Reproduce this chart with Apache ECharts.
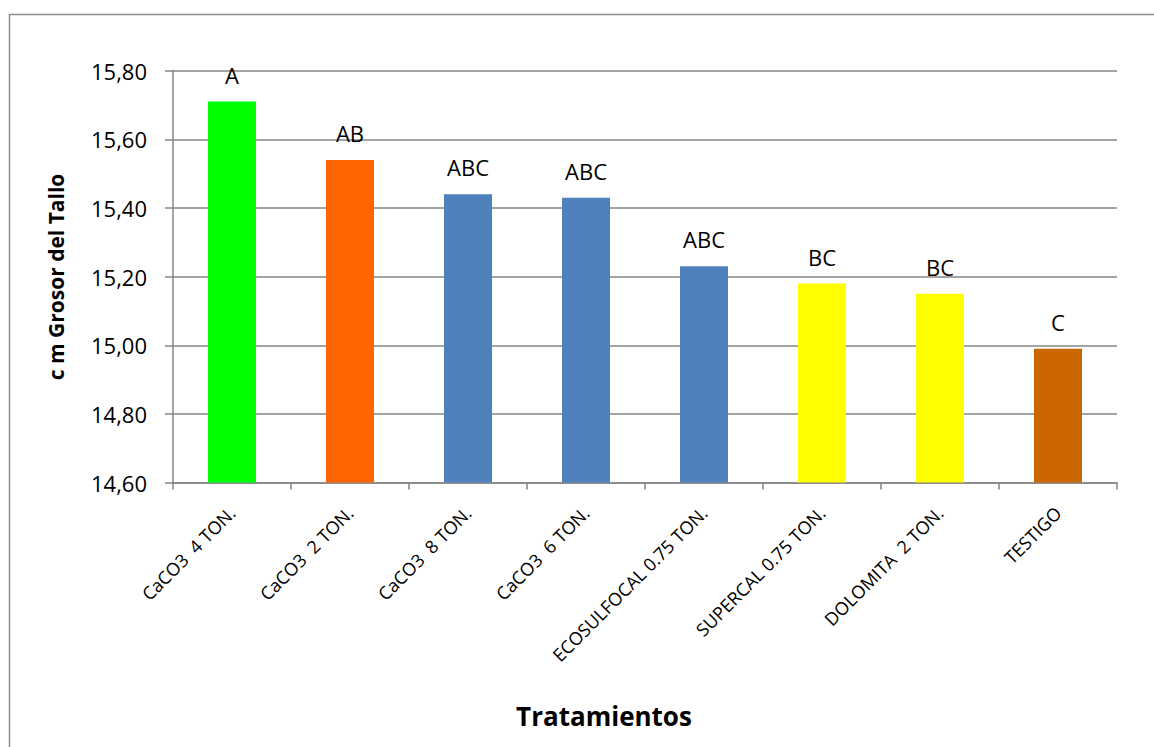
<!DOCTYPE html>
<html>
<head>
<meta charset="utf-8">
<script src="https://cdn.jsdelivr.net/npm/echarts@6/dist/echarts.min.js"></script>
<style>
html,body{margin:0;padding:0;background:#fff;}
#chart{width:1154px;height:747px;}
#chart svg text{white-space:pre;}
</style>
</head>
<body>
<div id="chart"></div>
<script>
const categories = ['CaCO3  4 TON.', 'CaCO3  2 TON.', 'CaCO3  8 TON.', 'CaCO3  6 TON.', 'ECOSULFOCAL 0.75 TON.', 'SUPERCAL 0.75 TON.', 'DOLOMITA  2 TON.', 'TESTIGO'];
const values = [15.71, 15.54, 15.44, 15.43, 15.23, 15.18, 15.15, 14.99];
const groups = ['A', 'AB', 'ABC', 'ABC', 'ABC', 'BC', 'BC', 'C'];
const barColors = ['#00FF00', '#FF6600', '#4F81BD', '#4F81BD', '#4F81BD', '#FFFF00', '#FFFF00', '#CC6600'];
const yAxisTitle = 'c m Grosor del Tallo';
const xAxisTitle = 'Tratamientos';

const FONT = '"Open Sans", "DejaVu Sans", sans-serif';
const chart = echarts.init(document.getElementById('chart'), null, {renderer: 'svg'});
chart.setOption({
  animation: false,
  backgroundColor: '#fff',
  grid: {left: 173, right: 37, top: 70.7, bottom: 264.4, containLabel: false},
  xAxis: {
    type: 'category',
    data: categories,
    axisLine: {lineStyle: {color: '#868686', width: 1.5}},
    axisTick: {show: true, length: 7, lineStyle: {color: '#868686', width: 1.5}},
    axisLabel: {rotate: 45, margin: 27, color: '#000', fontFamily: FONT, fontSize: 18, interval: 0,
      formatter: v => v.replace(/  /g, ' \u00a0')}
  },
  yAxis: {
    type: 'value',
    min: 14.6, max: 15.8, interval: 0.2,
    axisLine: {show: true, lineStyle: {color: '#868686', width: 1.5}},
    axisTick: {show: true, length: 8, lineStyle: {color: '#868686', width: 1.5}},
    splitLine: {show: true, lineStyle: {color: '#868686', width: 1.5}},
    axisLabel: {margin: 26, color: '#000', fontFamily: FONT, fontSize: 22,
      formatter: v => v.toFixed(2).replace('.', ',')}
  },
  series: [{
    type: 'bar',
    barWidth: 48,
    data: values.map((v, i) => ({value: v, itemStyle: {color: barColors[i]}})),
    label: {
      show: true, position: 'top', distance: 16, color: '#000',
      fontFamily: FONT, fontSize: 22,
      formatter: p => groups[p.dataIndex]
    }
  }],
  graphic: [
    {type: 'rect', left: 7, top: 12, shape: {width: 1200, height: 800},
      style: {fill: 'none', stroke: '#8c8c8c', lineWidth: 1.5}, silent: true, z: -10},
    {type: 'text', x: 56, y: 277, rotation: Math.PI / 2,
      style: {text: yAxisTitle, fontFamily: FONT, fontSize: 21, fontWeight: 'bold', fill: '#000',
        align: 'center', verticalAlign: 'middle'}},
    {type: 'text', x: 604, y: 716,
      style: {text: xAxisTitle, fontFamily: FONT, fontSize: 26, fontWeight: 'bold', fill: '#000',
        align: 'center', verticalAlign: 'middle'}}
  ]
});
</script>
</body>
</html>
